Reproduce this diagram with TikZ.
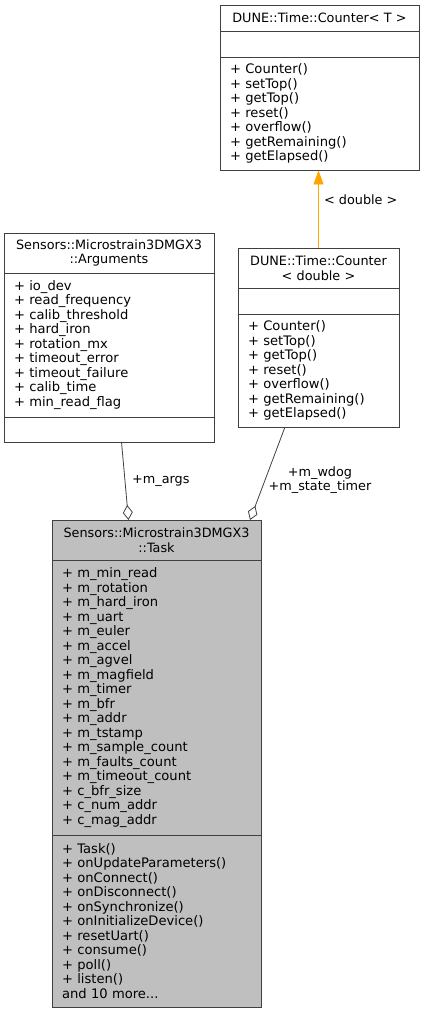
\documentclass[tikz,border=0pt]{standalone}
\usepackage{fontspec}
\setmainfont{DejaVu Sans}
\usetikzlibrary{arrows.meta}
\definecolor{edgegray}{RGB}{64,64,64}
\definecolor{taskfill}{RGB}{191,191,191}
\definecolor{inhorange}{RGB}{255,165,0}
\tikzset{
  txt/.style={font=\fontsize{12.8}{14.5}\selectfont, text=black},
  listtxt/.style={font=\fontsize{13.1}{14.5}\selectfont, text=black},
  part/.style={txt, draw=edgegray, line width=0.9pt, fill=white, inner xsep=0pt, inner ysep=0pt, anchor=center},
  titlepart/.style={part, align=center},
  listpart/.style={part, listtxt, align=left},
  agg/.style={draw=edgegray, line width=0.8pt, -{Diamond[open, length=15pt, width=10pt, line width=0.8pt]}},
  inh/.style={draw=inhorange, line width=0.9pt, -{Triangle[length=14pt, width=10pt, fill=inhorange]}},
  lbl/.style={txt, inner sep=0pt}
}
\begin{document}
\begin{tikzpicture}[x=1pt,y=-1pt]
\useasboundingbox (0,0) rectangle (424,1013);

% DUNE::Time::Counter< T >
\node[titlepart, minimum width=199pt, minimum height=26pt, text width=189pt] (ctTt) at (319.5,18) {DUNE::Time::Counter< T >};
\node[listpart, minimum width=199pt, minimum height=26pt, text width=179pt] (ctTa) at (319.5,44) {};
\node[listpart, minimum width=199pt, minimum height=113pt, text width=179pt] (ctTm) at (319.5,113.5) {+ Counter()\\+ setTop()\\+ getTop()\\+ reset()\\+ overflow()\\+ getRemaining()\\+ getElapsed()};

% DUNE::Time::Counter< double >
\node[titlepart, minimum width=161pt, minimum height=40pt, text width=151pt] (ctDt) at (318.5,268) {DUNE::Time::Counter\\< double >};
\node[listpart, minimum width=161pt, minimum height=26pt, text width=141pt] (ctDa) at (318.5,301) {};
\node[listpart, minimum width=161pt, minimum height=113pt, text width=141pt] (ctDm) at (318.5,370.5) {+ Counter()\\+ setTop()\\+ getTop()\\+ reset()\\+ overflow()\\+ getRemaining()\\+ getElapsed()};

% Sensors::Microstrain3DMGX3::Arguments
\node[titlepart, minimum width=210pt, minimum height=40pt, text width=200pt] (argt) at (109,253) {Sensors::Microstrain3DMGX3\\::Arguments};
\node[listpart, minimum width=210pt, minimum height=144pt, text width=190pt] (arga) at (109,345) {+ io\_dev\\+ read\_frequency\\+ calib\_threshold\\+ hard\_iron\\+ rotation\_mx\\+ timeout\_error\\+ timeout\_failure\\+ calib\_time\\+ min\_read\_flag};
\node[listpart, minimum width=210pt, minimum height=25pt, text width=190pt] (argm) at (109,429.5) {};

% Sensors::Microstrain3DMGX3::Task
\node[titlepart, fill=taskfill, minimum width=209pt, minimum height=40pt, text width=199pt] (taskt) at (156.5,540) {Sensors::Microstrain3DMGX3\\::Task};
\node[listpart, fill=taskfill, minimum width=209pt, minimum height=275pt, text width=189pt] (taska) at (156.5,697.5) {+ m\_min\_read\\+ m\_rotation\\+ m\_hard\_iron\\+ m\_uart\\+ m\_euler\\+ m\_accel\\+ m\_agvel\\+ m\_magfield\\+ m\_timer\\+ m\_bfr\\+ m\_addr\\+ m\_tstamp\\+ m\_sample\_count\\+ m\_faults\_count\\+ m\_timeout\_count\\+ c\_bfr\_size\\+ c\_num\_addr\\+ c\_mag\_addr};
\node[listpart, fill=taskfill, minimum width=209pt, minimum height=172pt, text width=189pt] (taskm) at (156.5,921) {+ Task()\\+ onUpdateParameters()\\+ onConnect()\\+ onDisconnect()\\+ onSynchronize()\\+ onInitializeDevice()\\+ resetUart()\\+ consume()\\+ poll()\\+ listen()\\and 10 more...};

% connectors
\coordinate (argsOut) at (121.5,442);
\coordinate (taskIn1) at (128.5,520);
\coordinate (ctDOut) at (285,427);
\coordinate (taskIn2) at (250,520);
\draw[inh] (ctDt.north) -- (ctDt.north |- ctTm.south);
\draw[agg] (argsOut) -- (taskIn1);
\draw[agg] (ctDOut) -- (taskIn2);

\node[lbl, anchor=west] (lblD) at (324,200) {< double >};
\node[lbl, anchor=west] (lblA) at (132,481) {+m\_args};
\node[lbl, align=center] (lblW) at (320,480) {+m\_wdog\\+m\_state\_timer};
\end{tikzpicture}
\end{document}
